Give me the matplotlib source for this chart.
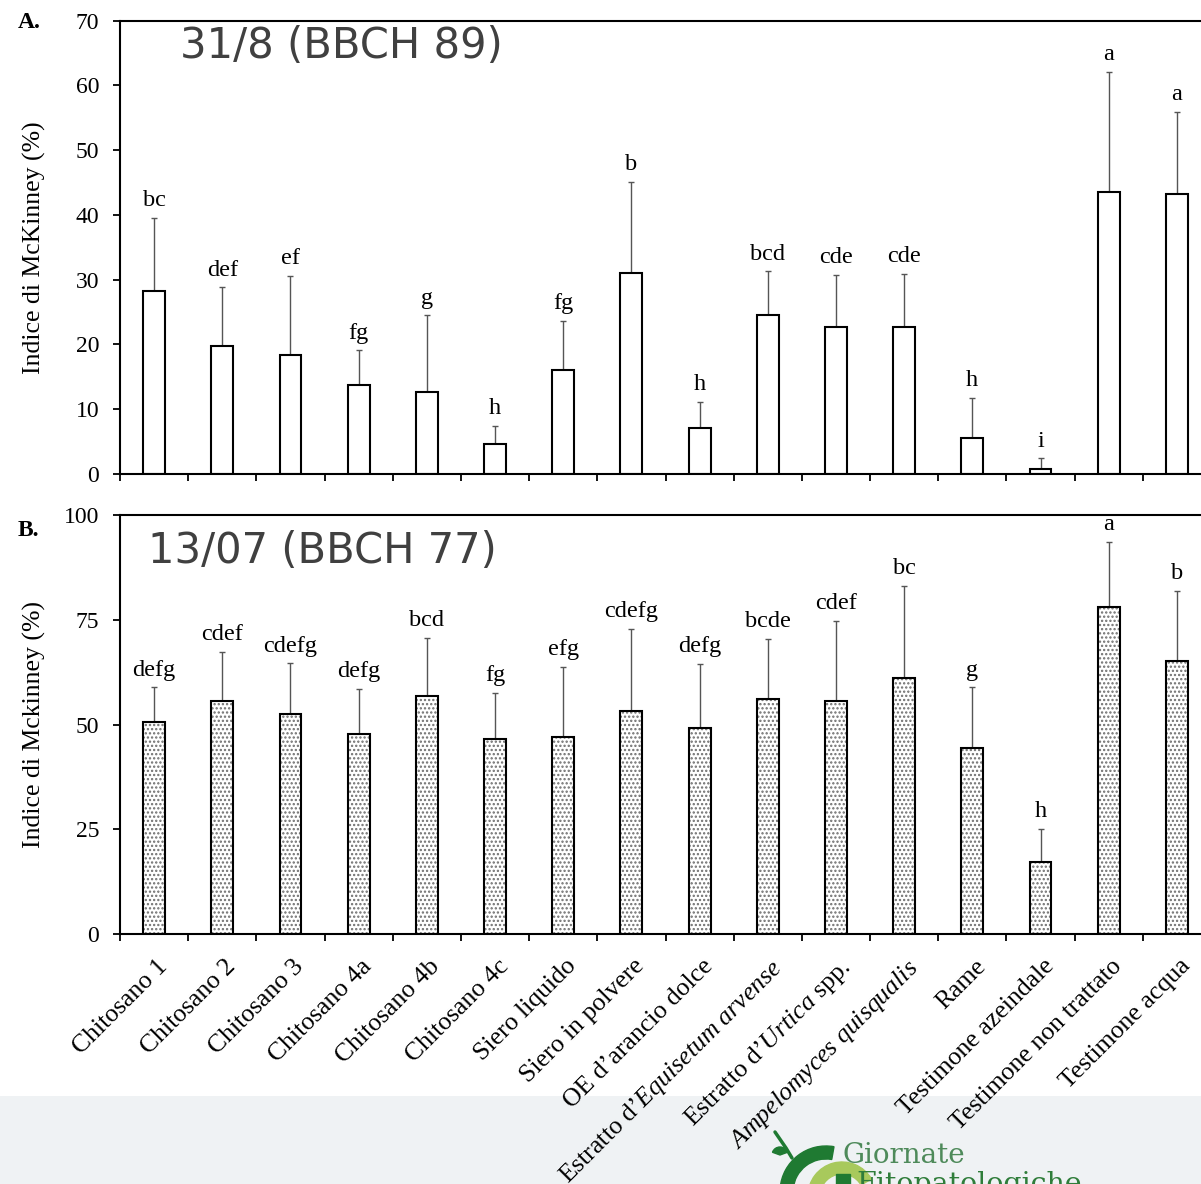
import numpy as np
import matplotlib
matplotlib.use('agg')
import matplotlib.pyplot as plt
import matplotlib.transforms as mtransforms
from matplotlib.patches import Rectangle, Wedge

plt.rcParams['font.family'] = ['Liberation Serif', 'DejaVu Serif']
plt.rcParams['mathtext.fontset'] = 'custom'
plt.rcParams['mathtext.rm'] = 'Liberation Serif'
plt.rcParams['mathtext.it'] = 'Liberation Serif:italic'
plt.rcParams['hatch.linewidth'] = 1.1

# trattamenti
categories = [
    'Chitosano 1', 'Chitosano 2', 'Chitosano 3', 'Chitosano 4a', 'Chitosano 4b',
    'Chitosano 4c', 'Siero liquido', 'Siero in polvere', 'OE d\u2019arancio dolce',
    'Estratto d\u2019$\\mathit{Equisetum\\ arvense}$', 'Estratto d\u2019$\\mathit{Urtica}$ spp.',
    '$\\mathit{Ampelomyces\\ quisqualis}$', 'Rame', 'Testimone azeindale',
    'Testimone non trattato', 'Testimone acqua',
]

# A. 31/8 (BBCH 89): media e limite superiore della barra d'errore
top_mean = [28.2, 19.8, 18.3, 13.8, 12.6, 4.7, 16.0, 31.0, 7.1, 24.6, 22.7, 22.7, 5.6, 0.7, 43.5, 43.3]
top_upper = [39.5, 28.8, 30.6, 19.1, 24.5, 7.4, 23.6, 45.1, 11.1, 31.3, 30.7, 30.9, 11.8, 2.4, 62.1, 55.9]
top_letters = ['bc', 'def', 'ef', 'fg', 'g', 'h', 'fg', 'b', 'h', 'bcd', 'cde', 'cde', 'h', 'i', 'a', 'a']

# B. 13/07 (BBCH 77)
bot_mean = [50.7, 55.6, 52.5, 47.7, 56.9, 46.6, 47.1, 53.3, 49.1, 56.0, 55.6, 61.2, 44.4, 17.3, 78.0, 65.1]
bot_upper = [58.9, 67.4, 64.6, 58.5, 70.7, 57.5, 63.7, 72.8, 64.4, 70.4, 74.7, 83.1, 58.9, 25.1, 93.6, 81.9]
bot_letters = ['defg', 'cdef', 'cdefg', 'defg', 'bcd', 'fg', 'efg', 'cdefg', 'defg', 'bcde',
               'cdef', 'bc', 'g', 'h', 'a', 'b']

W, H = 1201, 1184
fig = plt.figure(figsize=(W / 100, H / 100), dpi=100)
fig.patch.set_facecolor('white')


def px_ax(l, t, r, b):
    return [l / W, 1 - b / H, (r - l) / W, (b - t) / H]


# fascia grigia in basso
fig.patches.append(Rectangle((0, 0), 1, 88 / H, transform=fig.transFigure,
                             facecolor='#eff2f4', edgecolor='none', zorder=-5))

ax1 = fig.add_axes(px_ax(120, 20.7, 1211, 474))
ax2 = fig.add_axes(px_ax(120, 515, 1211, 934.3))

x = np.arange(len(categories))
bw = 0.32


def style(ax, ymax, step, ylabel):
    ax.set_xlim(-0.5, len(categories) - 0.5)
    ax.set_ylim(0, ymax)
    ax.set_yticks(np.arange(0, ymax + 1, step))
    ax.set_xticks(np.arange(-0.5, len(categories)), minor=True)
    ax.tick_params(axis='x', which='minor', direction='out', length=5, width=1.3)
    ax.tick_params(axis='y', direction='out', length=5, width=1.3, labelsize=17, pad=10)
    for s in ['top', 'left', 'bottom']:
        ax.spines[s].set_linewidth(1.5)
    ax.spines['right'].set_visible(False)
    ax.set_ylabel(ylabel, fontsize=18.5)
    ax.yaxis.set_label_coords(-0.068, 0.5)
    ax.patch.set_alpha(0)


# pannello A
ax1.errorbar(x, top_mean, yerr=[np.zeros(len(x)), np.array(top_upper) - np.array(top_mean)],
             fmt='none', ecolor='#555555', elinewidth=1, capsize=2.5, capthick=1, zorder=1)
ax1.bar(x, top_mean, width=bw, facecolor='white', edgecolor='black', linewidth=1.5, zorder=2)
for i, lab in enumerate(top_letters):
    ax1.annotate(lab, (x[i], top_upper[i]), xytext=(0, 8.5), textcoords='offset points',
                 ha='center', va='baseline', fontsize=17.5, annotation_clip=False)
style(ax1, 70, 10, 'Indice di McKinney (%)')
ax1.set_xticks([])
ax1.text(0.055, 0.944, '31/8 (BBCH 89)', transform=ax1.transAxes, family='DejaVu Sans',
         fontsize=30, color='#404040', ha='left', va='center')

# pannello B
ax2.errorbar(x, bot_mean, yerr=[np.zeros(len(x)), np.array(bot_upper) - np.array(bot_mean)],
             fmt='none', ecolor='#555555', elinewidth=1, capsize=2.5, capthick=1, zorder=1)
ax2.bar(x, bot_mean, width=bw, facecolor='white', edgecolor='#6e6e6e', linewidth=0,
        hatch='....', zorder=2)
ax2.bar(x, bot_mean, width=bw, facecolor='none', edgecolor='black', linewidth=1.5, zorder=3)
for i, lab in enumerate(bot_letters):
    ax2.annotate(lab, (x[i], bot_upper[i]), xytext=(0, 8.5), textcoords='offset points',
                 ha='center', va='baseline', fontsize=17.5, annotation_clip=False)
style(ax2, 100, 25, 'Indice di Mckinney (%)')
ax2.set_xticks(x)
ax2.set_xticklabels(categories, fontsize=18.5)
ax2.tick_params(axis='x', which='major', length=0, pad=15)
offset = mtransforms.ScaledTranslation(2 / 100, 0, fig.dpi_scale_trans)
for lab in ax2.get_xticklabels():
    lab.set_rotation(45)
    lab.set_ha('right')
    lab.set_va('top')
    lab.set_rotation_mode('anchor')
    lab.set_transform(lab.get_transform() + offset)
ax2.text(0.026, 0.914, '13/07 (BBCH 77)', transform=ax2.transAxes, family='DejaVu Sans',
         fontsize=30, color='#404040', ha='left', va='center')

fig.text(18 / W, 1 - 23 / H, 'A.', fontsize=17, weight='bold', ha='left', va='center')
fig.text(18 / W, 1 - 531 / H, 'B.', fontsize=17, weight='bold', ha='left', va='center')

# logo Giornate Fitopatologiche
lg = fig.add_axes(px_ax(760, 1120, 900, 1184))
lg.set_xlim(760, 900)
lg.set_ylim(1184, 1120)
lg.axis('off')
lg.add_patch(Wedge((826, 1192), 46, 90, 280, width=13, color='#1f7a32'))
lg.add_patch(Wedge((842, 1196), 34, 180, 330, width=12, color='#a8c95c'))
lg.add_patch(Rectangle((836, 1174), 14, 12, color='#1f7a32'))
lg.plot([775, 786, 792], [1132, 1148, 1158], color='#1f7a32', lw=2.5, solid_capstyle='round')
lg.add_patch(Wedge((780, 1155), 8, 200, 340, color='#1f7a32'))
fig.text(843 / W, 1 - 1163 / H, 'Giornate', family='DejaVu Serif', fontsize=20,
         color='#4e8a5a', ha='left', va='baseline')
fig.text(856 / W, 1 - 1192 / H, 'Fitopatologiche', family='DejaVu Serif', fontsize=20.5,
         color='#2f7d3a', ha='left', va='baseline')

fig.savefig('out.png', dpi=100)
